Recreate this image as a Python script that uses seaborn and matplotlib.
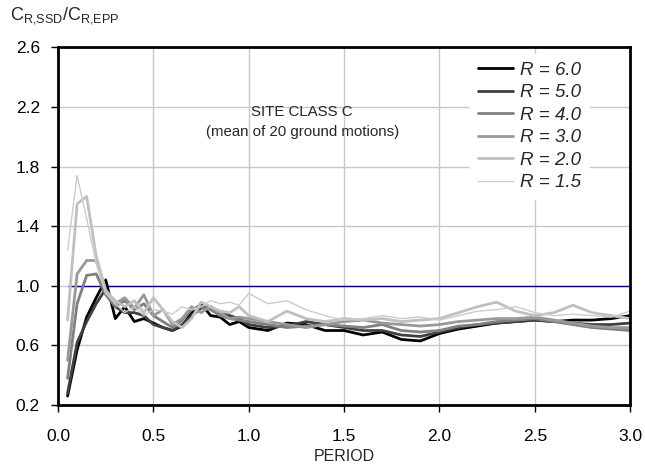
import numpy as np
import pandas as pd
import seaborn as sns
import matplotlib.pyplot as plt

periods = [0.05, 0.1, 0.15, 0.2, 0.25, 0.3, 0.35, 0.4, 0.45, 0.5,
           0.55, 0.6, 0.65, 0.7, 0.75, 0.8, 0.85, 0.9, 0.95, 1.0,
           1.1, 1.2, 1.3, 1.4, 1.5, 1.6, 1.7, 1.8, 1.9, 2.0,
           2.1, 2.2, 2.3, 2.4, 2.5, 2.6, 2.7, 2.8, 2.9, 3.0]

r60 = [0.26, 0.57, 0.79, 0.92, 1.04, 0.78, 0.86, 0.76, 0.78, 0.75,
       0.72, 0.70, 0.73, 0.82, 0.88, 0.80, 0.79, 0.74, 0.76, 0.72,
       0.70, 0.75, 0.74, 0.70, 0.70, 0.67, 0.69, 0.64, 0.63, 0.68,
       0.71, 0.73, 0.75, 0.76, 0.77, 0.76, 0.77, 0.77, 0.78, 0.80]
r50 = [0.28, 0.62, 0.76, 0.88, 0.98, 0.86, 0.82, 0.82, 0.80, 0.74,
       0.72, 0.70, 0.74, 0.80, 0.85, 0.86, 0.82, 0.80, 0.78, 0.74,
       0.72, 0.73, 0.76, 0.74, 0.72, 0.70, 0.70, 0.67, 0.66, 0.69,
       0.72, 0.74, 0.75, 0.76, 0.77, 0.76, 0.75, 0.74, 0.74, 0.75]
r40 = [0.38, 0.88, 1.07, 1.08, 0.94, 0.86, 0.90, 0.84, 0.88, 0.80,
       0.76, 0.72, 0.77, 0.84, 0.86, 0.84, 0.80, 0.78, 0.77, 0.76,
       0.74, 0.72, 0.73, 0.74, 0.73, 0.72, 0.74, 0.70, 0.69, 0.70,
       0.73, 0.74, 0.76, 0.77, 0.78, 0.76, 0.74, 0.72, 0.71, 0.70]
r30 = [0.50, 1.08, 1.17, 1.17, 0.96, 0.88, 0.92, 0.85, 0.94, 0.80,
       0.84, 0.74, 0.78, 0.86, 0.82, 0.86, 0.82, 0.78, 0.79, 0.78,
       0.76, 0.74, 0.72, 0.74, 0.76, 0.77, 0.75, 0.74, 0.73, 0.74,
       0.76, 0.77, 0.78, 0.78, 0.79, 0.77, 0.75, 0.73, 0.72, 0.72]
r20 = [0.77, 1.55, 1.60, 1.20, 0.97, 0.90, 0.86, 0.90, 0.82, 0.92,
       0.84, 0.76, 0.72, 0.78, 0.89, 0.86, 0.83, 0.82, 0.86, 0.80,
       0.76, 0.83, 0.78, 0.76, 0.78, 0.77, 0.78, 0.76, 0.77, 0.78,
       0.82, 0.86, 0.89, 0.83, 0.80, 0.82, 0.87, 0.82, 0.80, 0.78]
r15 = [1.24, 1.74, 1.45, 1.15, 0.95, 0.88, 0.82, 0.86, 0.80, 0.84,
       0.83, 0.81, 0.86, 0.84, 0.86, 0.90, 0.88, 0.89, 0.87, 0.95,
       0.88, 0.90, 0.84, 0.80, 0.77, 0.78, 0.80, 0.78, 0.79, 0.77,
       0.80, 0.83, 0.84, 0.86, 0.82, 0.80, 0.81, 0.80, 0.79, 0.83]

labels = ["R = 6.0", "R = 5.0", "R = 4.0", "R = 3.0", "R = 2.0", "R = 1.5"]
series = [r60, r50, r40, r30, r20, r15]
colors = ["#000000", "#404040", "#808080", "#999999", "#c0c0c0", "#cccccc"]
widths = [2.0, 2.0, 2.0, 2.0, 2.0, 1.0]

df = pd.concat([pd.DataFrame({"T": periods, "ratio": s, "R": lab})
                for s, lab in zip(series, labels)])

sns.set_style("white")
plt.rcParams["font.family"] = ["Liberation Sans", "DejaVu Sans"]
plt.rcParams["mathtext.default"] = "regular"

fig = plt.figure(figsize=(6.45, 4.68), dpi=100)
ax = fig.add_axes([0.09, 0.1346, 0.887, 0.764])

ax.grid(True, color="#c8c8c8", linewidth=1)
ax.set_axisbelow(True)
ax.hlines(1.0, 0.05, 3.0, color="#000080", linewidth=1, zorder=1)

for lab, c, w in zip(labels, colors, widths):
    sns.lineplot(data=df[df["R"] == lab], x="T", y="ratio", color=c,
                 linewidth=w, label=lab, ax=ax, zorder=2)

ax.set_xlim(0, 3.0)
ax.set_ylim(0.2, 2.6)
ax.set_xticks(np.arange(0, 3.01, 0.5))
ax.set_yticks(np.arange(0.2, 2.61, 0.4))
ax.xaxis.set_major_formatter(plt.FormatStrFormatter("%.1f"))
ax.yaxis.set_major_formatter(plt.FormatStrFormatter("%.1f"))
ax.tick_params(direction="out", length=5, width=1, colors="black",
               labelsize=12.5, bottom=True, left=True)
ax.tick_params(axis="x", pad=12)
ax.tick_params(axis="y", pad=8)
for sp in ax.spines.values():
    sp.set_color("black")
    sp.set_linewidth(2)

ax.set_xlabel("PERIOD", fontsize=11.5, labelpad=4)
ax.set_ylabel("")
fig.text(0.015, 0.966, "C$_{R{,}SSD}$/C$_{R{,}EPP}$", fontsize=13, va="center")

ax.text(1.28, 2.17, "SITE CLASS C", ha="center", va="center", fontsize=10.8)
ax.text(1.28, 2.03, "(mean of 20 ground motions)", ha="center", va="center",
        fontsize=10.8)

leg = ax.legend(loc="upper left", bbox_to_anchor=(470 / 645, 1 - 54 / 468),
                bbox_transform=fig.transFigure, frameon=True, fancybox=False,
                edgecolor="white", framealpha=1, fontsize=13.5,
                handlelength=1.9, handletextpad=0.37, labelspacing=0.29,
                borderaxespad=0, borderpad=0.4)
for t in leg.get_texts():
    t.set_fontstyle("italic")

fig.savefig("out.png", dpi=100)
